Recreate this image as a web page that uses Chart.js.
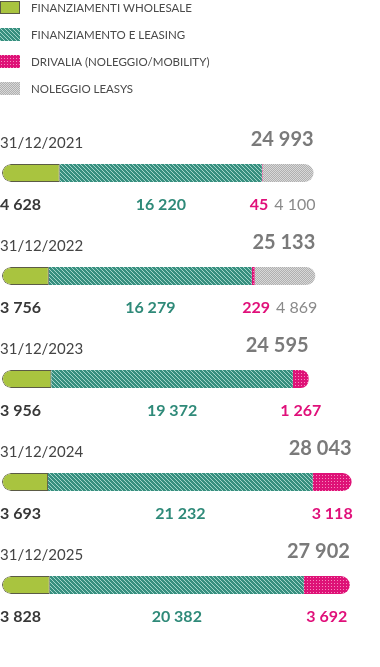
<!DOCTYPE html>
<html>
<head>
<meta charset="utf-8">
<script src="https://cdn.jsdelivr.net/npm/chart.js@4"></script>
<style>
html,body{margin:0;padding:0;background:#fff;}
canvas{display:block;}
</style>
</head>
<body>
<canvas id="c" width="380" height="667"></canvas>
<script>
// ---- data ----
const categories = ['31/12/2021', '31/12/2022', '31/12/2023', '31/12/2024', '31/12/2025'];
const seriesNames = ['FINANZIAMENTI WHOLESALE', 'FINANZIAMENTO E LEASING', 'DRIVALIA (NOLEGGIO/MOBILITY)', 'NOLEGGIO LEASYS'];
const wholesale = [4628, 3756, 3956, 3693, 3828];
const leasing = [16220, 16279, 19372, 21232, 20382];
const drivalia = [45, 229, 1267, 3118, 3692];
const leasys = [4100, 4869, null, null, null];
const totals = [24993, 25133, 24595, 28043, 27902];

function fmt(v) { return String(v).replace(/\B(?=(\d{3})+(?!\d))/g, ' '); }

function makePattern(size, base, light, pts) {
  const c = document.createElement('canvas');
  c.width = size; c.height = size;
  const g = c.getContext('2d');
  g.fillStyle = base; g.fillRect(0, 0, size, size);
  g.fillStyle = light;
  pts.forEach(p => g.fillRect(p[0], p[1], 1, 1));
  return g.createPattern(c, 'repeat');
}
const ctx = document.getElementById('c').getContext('2d');
const tealPat = makePattern(4, '#378f7f', '#a3d5ca', [[0,0],[1,1],[2,2],[3,3]]);
const pinkPat = makePattern(3, '#de1277', '#f48bbd', [[1,1]]);
const grayPat = makePattern(2, '#b0b0b0', '#d8d8d8', [[0,0],[1,1]]);

const R = 9;
const leftR = {topLeft: R, bottomLeft: R, topRight: 0, bottomRight: 0};
const rightR = {topLeft: 0, bottomLeft: 0, topRight: R, bottomRight: R};
const none = 0;

const labelPlugin = {
  id: 'labels',
  afterDatasetsDraw(chart) {
    const c = chart.ctx;
    const m = [0,1,2,3].map(d => chart.getDatasetMeta(d).data);
    c.save();
    c.textBaseline = 'middle';
    categories.forEach((cat, i) => {
      const g = m[0][i], t = m[1][i], p = m[2][i], s = m[3][i];
      const cy = g.y;
      // date
      c.font = '15px Lato';
      c.fillStyle = '#444';
      c.textAlign = 'left';
      c.fillText(cat, 0, cy - 30);
      // total
      const endX = leasys[i] ? s.x : p.x;
      c.font = 'bold 20px Lato';
      c.fillStyle = '#7a7a7a';
      c.textAlign = 'right';
      c.fillText(fmt(totals[i]), endX, cy - 33);
      const vy = cy + 32;
      // wholesale
      c.font = 'bold 16px Lato';
      c.fillStyle = '#383838';
      c.textAlign = 'left';
      c.fillText(fmt(wholesale[i]), 0, vy);
      // leasing
      c.fillStyle = '#2f8a79';
      c.textAlign = 'center';
      c.fillText(fmt(leasing[i]), (t.base + t.x) / 2, vy);
      if (leasys[i]) {
        c.font = '16px Lato';
        c.fillStyle = '#8a8a8a';
        c.textAlign = 'right';
        const gx = s.x + 2;
        c.fillText(fmt(leasys[i]), gx, vy);
        const w = c.measureText(fmt(leasys[i])).width;
        c.font = 'bold 16px Lato';
        c.fillStyle = '#e0107a';
        c.fillText(fmt(drivalia[i]), gx - w - 6, vy);
      } else {
        c.fillStyle = '#e0107a';
        c.textAlign = 'center';
        c.fillText(fmt(drivalia[i]), (p.base + p.x) / 2, vy);
      }
    });
    // legend
    const ys = [1, 28, 55, 82];
    chart.data.datasets.forEach((ds, d) => {
      const y = ys[d];
      c.fillStyle = ds.legendFill;
      c.fillRect(0, y, 20, 13);
      if (d === 0) {
        c.strokeStyle = '#5b5b45';
        c.lineWidth = 1;
        c.strokeRect(0.5, y + 0.5, 19, 12);
      }
      c.font = '11.5px Lato';
      c.fillStyle = '#4a4a4a';
      c.textAlign = 'left';
      c.fillText(ds.label, 31, y + 7);
    });
    c.restore();
  }
};

new Chart(ctx, {
  type: 'bar',
  data: {
    labels: categories,
    datasets: [
      {label: seriesNames[0], data: wholesale, backgroundColor: '#a9c43f', legendFill: '#a9c43f',
       borderColor: '#5b5b45', borderWidth: 1, borderRadius: leftR},
      {label: seriesNames[1], data: leasing, backgroundColor: tealPat, legendFill: tealPat,
       borderWidth: 0, borderRadius: none},
      {label: seriesNames[2], data: drivalia, backgroundColor: pinkPat, legendFill: pinkPat,
       borderWidth: 0, borderRadius: (c) => (leasys[c.dataIndex] ? 0 : rightR)},
      {label: seriesNames[3], data: leasys, backgroundColor: grayPat, legendFill: grayPat,
       borderWidth: 0, borderRadius: rightR}
    ]
  },
  options: {
    indexAxis: 'y',
    responsive: false,
    animation: false,
    devicePixelRatio: 1,
    layout: {padding: {left: 2, right: 4, top: 121.5, bottom: 30.5}},
    datasets: {bar: {barThickness: 18, borderSkipped: false, inflateAmount: 0}},
    scales: {
      x: {stacked: true, min: 0, max: 30000, display: false},
      y: {stacked: true, display: false}
    },
    plugins: {legend: {display: false}, tooltip: {enabled: false}}
  },
  plugins: [labelPlugin]
});
</script>
</body>
</html>
